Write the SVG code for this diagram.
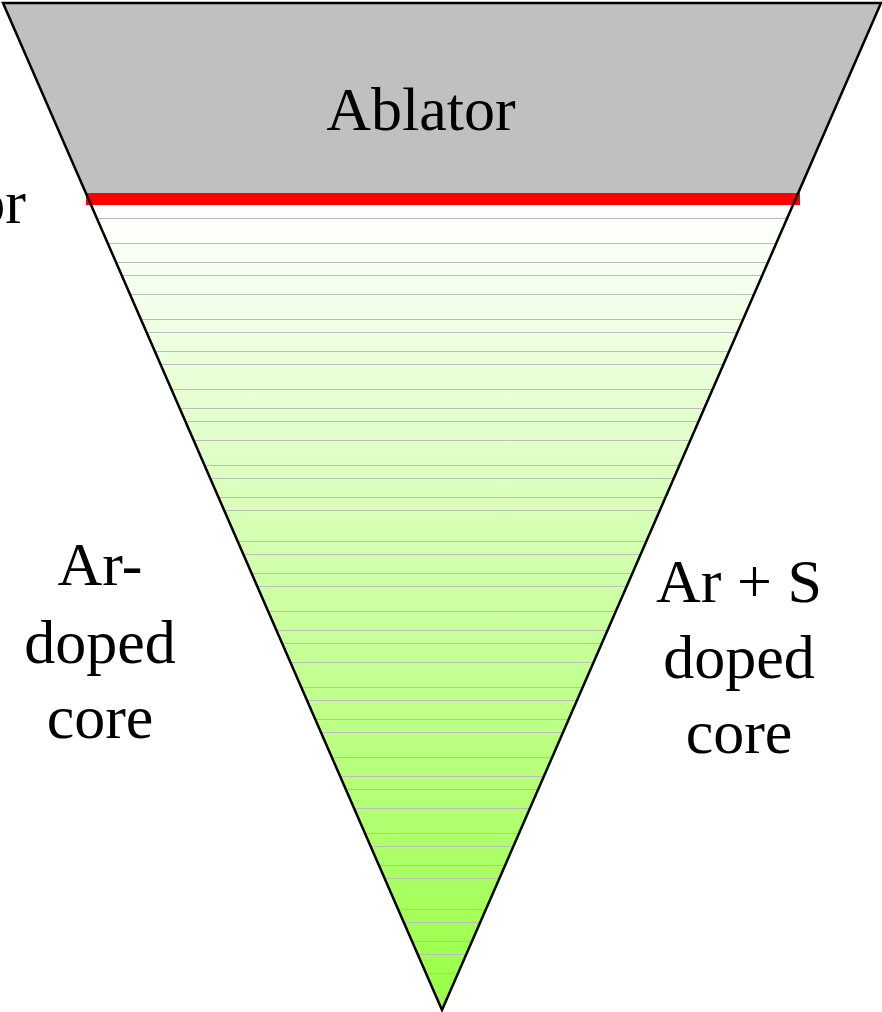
<svg xmlns="http://www.w3.org/2000/svg" width="882" height="1012" viewBox="0 0 882 1012">
<style>
.lbl{font-family:"Liberation Serif","Times New Roman",serif;font-size:62px;fill:#000;text-anchor:middle}
.zone{stroke:#bcbcbc;stroke-width:1.2;fill:none}
</style>
<defs>
<linearGradient id="core" x1="0" y1="205" x2="0" y2="1010" gradientUnits="userSpaceOnUse">
<stop offset="0" stop-color="#ffffff"/>
<stop offset="1" stop-color="#99ff44"/>
</linearGradient>
<clipPath id="tri"><polygon points="3,3 881,3 442,1010"/></clipPath>
</defs>
<rect width="882" height="1012" fill="#fff"/>
<g id="core-region" clip-path="url(#tri)">
<rect x="0" y="199" width="882" height="813" fill="url(#core)"/>
<g class="zone">
<path d="M0 218.5H882M0 243.5H882M0 262.5H882M0 275.5H882M0 294.5H882M0 319.5H882M0 332.5H882M0 351.5H882M0 364.5H882M0 389.5H882M0 408.5H882M0 421.5H882M0 440.5H882M0 465.5H882M0 478.5H882M0 497.5H882M0 510.5H882M0 541.5H882M0 554.5H882M0 573.5H882M0 586.5H882M0 611.5H882M0 630.5H882M0 643.5H882M0 662.5H882M0 687.5H882M0 700.5H882M0 719.5H882M0 732.5H882M0 757.5H882M0 776.5H882M0 789.5H882M0 808.5H882M0 833.5H882M0 846.5H882M0 865.5H882M0 878.5H882M0 909.5H882M0 922.5H882M0 941.5H882M0 954.5H882M0 973.5H882M0 998.5H882"/>
</g>
</g>
<g id="ablator">
<polygon points="3,3 881,3 797,199 88,199" fill="#c0c0c0"/>
<text class="lbl" x="421" y="130">Ablator</text>
</g>
<g id="interface">
<rect x="86" y="193" width="714" height="12" fill="#ff0000"/>
</g>
<g id="outline">
<polygon points="3,3 881,3 442,1010" fill="none" stroke="#000" stroke-width="2.5" stroke-linejoin="miter"/>
</g>
<g id="label-left-top">
<text class="lbl" x="26" y="223" style="text-anchor:end">or</text>
</g>
<g id="label-ar">
<text class="lbl" x="100" y="585">Ar-</text>
<text class="lbl" x="100" y="663">doped</text>
<text class="lbl" x="100" y="738">core</text>
</g>
<g id="label-ars">
<text class="lbl" x="739" y="602">Ar + S</text>
<text class="lbl" x="739" y="678">doped</text>
<text class="lbl" x="739" y="753">core</text>
</g>
</svg>
